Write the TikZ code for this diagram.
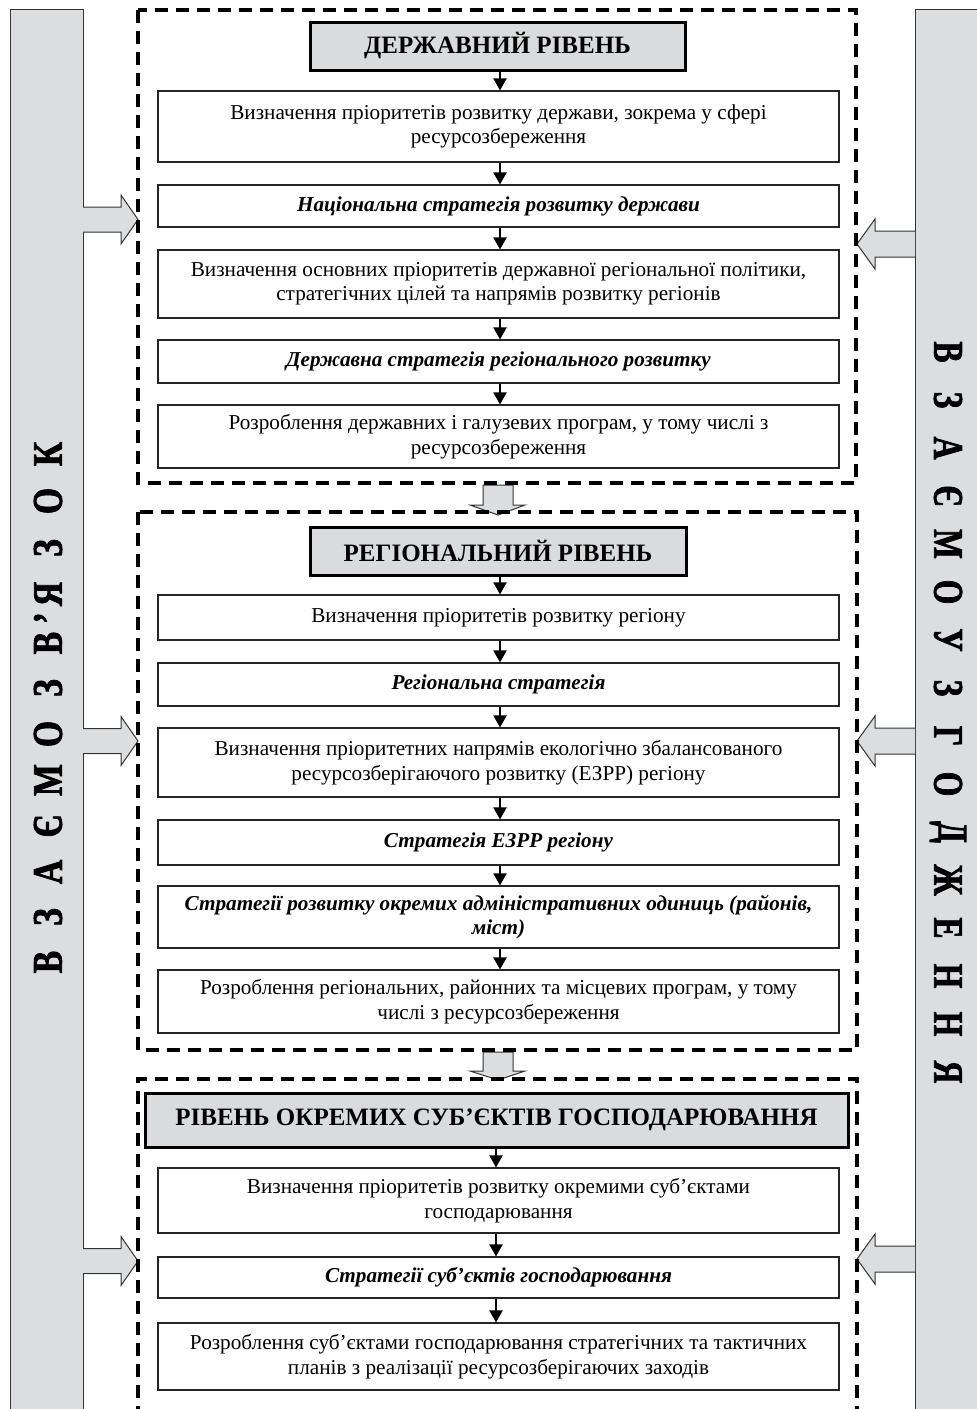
\documentclass[tikz,border=0pt]{standalone}
\usepackage{fontspec}
\setmainfont{Liberation Serif}
\newfontfamily\vletfont[FakeBold=2.2]{Liberation Serif Bold}
\usetikzlibrary{arrows.meta}
\definecolor{barfill}{RGB}{220,221,223}
\definecolor{hdrfill}{RGB}{218,219,221}
\begin{document}
\begin{tikzpicture}[x=1pt,y=-1pt,
  box/.style={draw=black!85, line width=1.1pt, fill=white, minimum width=681pt, inner sep=0pt, align=center, font=\fontsize{21.2}{24.5}\selectfont},
  sbox/.style={box, font=\fontsize{21.2}{24.5}\selectfont\bfseries\itshape},
  hdr/.style={draw=black, line width=3pt, fill=hdrfill, inner sep=0pt, align=center, font=\fontsize{25}{28}\selectfont\bfseries},
  sect/.style={draw=black, line width=3.3pt, dash pattern=on 13pt off 8pt},
  flow/.style={line width=2pt, -{Triangle[width=13pt,length=12pt]}},
  bar/.style={draw=black!80, line width=1pt, fill=barfill},
  harrow/.style={draw=black!80, line width=1pt, fill=barfill},
  vlet/.style={font=\vletfont\fontsize{42}{42}\selectfont, inner sep=0pt}
]
\useasboundingbox (0,0) rectangle (977,1409);
\clip (0,0) rectangle (977,1409);

% side bars
\draw[bar] (10,9) rectangle (83,1430);
\draw[bar] (915,9) rectangle (995,1430);

% side block arrows (left, pointing right)
\foreach \c in {219.5,741,1261}{
  \filldraw[harrow] (83,\c-12.5) -- (121,\c-12.5) -- (121,\c-24.5) -- (138,\c) -- (121,\c+24.5) -- (121,\c+12.5) -- (83,\c+12.5);
}
% right, pointing left
\foreach \c in {244,741,1259}{
  \filldraw[harrow] (915,\c-13) -- (875,\c-13) -- (875,\c-25) -- (857,\c) -- (875,\c+25) -- (875,\c+13) -- (915,\c+13);
}

% block arrows between sections
\filldraw[harrow] (483,485) -- (513,485) -- (513,505) -- (525,505) -- (498,515) -- (470,505) -- (483,505) -- cycle;
\filldraw[harrow] (483,1052) -- (513,1052) -- (513,1071) -- (525,1071) -- (498,1080) -- (470,1071) -- (483,1071) -- cycle;

% sections
\draw[sect] (138,10) rectangle (856,483);
\draw[sect] (138,512) rectangle (857,1050);
\draw[sect] (138,1440) -- (138,1079) -- (857,1079) -- (857,1440);

% vertical texts
\foreach \ch/\yy [count=\i] in {В/962,З/917,А/872,Є/826,М/780,О/734,З/688,В/643,’/618,Я/594,З/548,О/501,К/454}{
  \node[vlet, rotate=90] (l\i) at (48,\yy) {\scalebox{0.8}[1]{\ch}};
}
\foreach \ch [count=\i from 0] in {В,З,А,Є,М,О,У,З,Г,О,Д,Ж,Е,Н,Н,Я}{
  \node[vlet, rotate=-90] (r\i) at (948,352+\i*48) {\scalebox{0.75}[1]{\ch}};
}

% section 1
\node[hdr, minimum width=375pt, minimum height=48pt] (h1) at (497.5,46) {ДЕРЖАВНИЙ РІВЕНЬ};
\node[box, minimum height=71pt] (b1) at (498.5,126.5) {Визначення пріоритетів розвитку держави, зокрема у сфері\\ресурсозбереження};
\node[sbox, minimum height=42pt] (b2) at (498.5,206) {Національна стратегія розвитку держави};
\node[box, minimum height=68pt] (b3) at (498.5,284) {Визначення основних пріоритетів державної регіональної політики,\\стратегічних цілей та напрямів розвитку регіонів};
\node[sbox, minimum height=43pt] (b4) at (498.5,361.5) {Державна стратегія регіонального розвитку};
\node[box, minimum height=63pt] (b5) at (498.5,436.5) {Розроблення державних і галузевих програм, у тому числі з\\ресурсозбереження};

% section 2
\node[hdr, minimum width=376pt, minimum height=48pt] (h2) at (498,551) {РЕГІОНАЛЬНИЙ РІВЕНЬ};
\node[box, minimum height=45pt] (b6) at (498.5,617.5) {Визначення пріоритетів розвитку регіону};
\node[sbox, minimum height=43pt] (b7) at (498.5,684.5) {Регіональна стратегія};
\node[box, minimum height=69pt] (b8) at (498.5,762.5) {Визначення пріоритетних напрямів екологічно збалансованого\\ресурсозберігаючого розвитку (ЕЗРР) регіону};
\node[sbox, minimum height=45pt] (b9) at (498.5,842.5) {Стратегія ЕЗРР регіону};
\node[sbox, minimum height=62pt] (b10) at (498.5,917) {Стратегії розвитку окремих адміністративних одиниць (районів,\\міст)};
\node[box, minimum height=63pt] (b11) at (498.5,1001.5) {Розроблення регіональних, районних та місцевих програм, у тому\\числі з ресурсозбереження};

% section 3
\node[hdr, minimum width=703pt, minimum height=54pt] (h3) at (496.5,1120) {РІВЕНЬ ОКРЕМИХ СУБ’ЄКТІВ ГОСПОДАРЮВАННЯ};
\node[box, minimum height=65pt] (b12) at (498.5,1200.5) {Визначення пріоритетів розвитку окремими суб’єктами\\господарювання};
\node[sbox, minimum height=41pt] (b13) at (498.5,1277.5) {Стратегії суб’єктів господарювання};
\node[box, minimum height=67pt] (b14) at (498.5,1356.5) {Розроблення суб’єктами господарювання стратегічних та тактичних\\планів з реалізації ресурсозберігаючих заходів};

% flow arrows
\draw[flow] (h1.south -| 500,0) -- (b1.north -| 500,0);
\foreach \a/\b in {b1/b2,b2/b3,b3/b4,b4/b5}{
  \draw[flow] (\a.south -| 500,0) -- (\b.north -| 500,0);
}
\draw[flow] (h2.south -| 500,0) -- (b6.north -| 500,0);
\foreach \a/\b in {b6/b7,b7/b8,b8/b9,b9/b10,b10/b11}{
  \draw[flow] (\a.south -| 500,0) -- (\b.north -| 500,0);
}
\draw[flow] (h3.south -| 496,0) -- (b12.north -| 496,0);
\foreach \a/\b in {b12/b13,b13/b14}{
  \draw[flow] (\a.south -| 496,0) -- (\b.north -| 496,0);
}
\end{tikzpicture}
\end{document}
